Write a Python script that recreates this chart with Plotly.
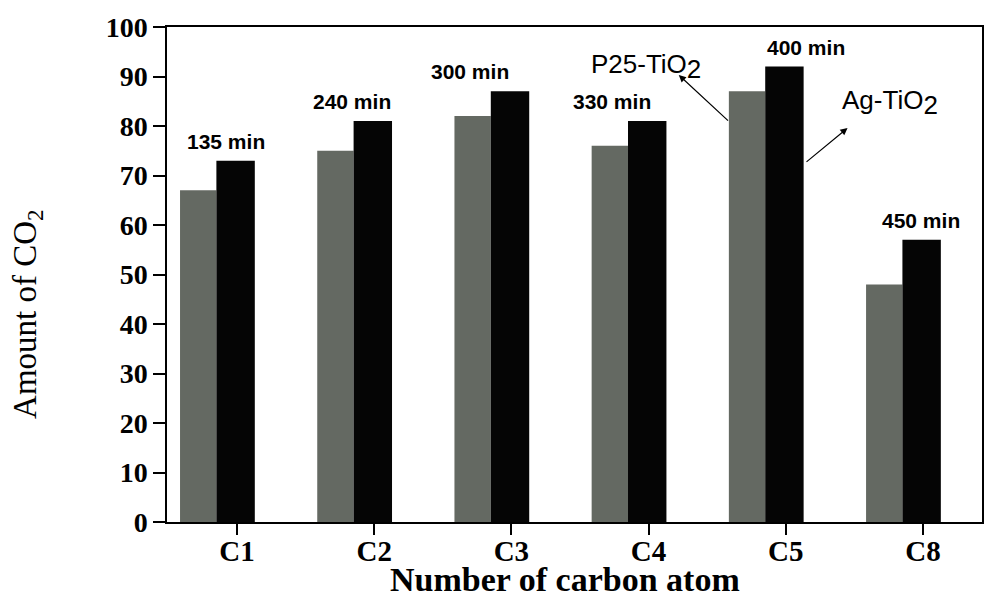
import plotly.graph_objects as go

# Data
carbons = ["C1", "C2", "C3", "C4", "C5", "C8"]
p25_tio2 = [67, 75, 82, 76, 87, 48]
ag_tio2 = [73, 81, 87, 81, 92, 57]
times_min = [135, 240, 300, 330, 400, 450]

pos = list(range(len(carbons)))

GRAY = "#646962"
BLACK = "#050505"
SERIF = "Liberation Serif, Times New Roman, serif"
SANS = "Liberation Sans, Arial, sans-serif"

fig = go.Figure()
fig.add_trace(go.Bar(
    x=pos, y=p25_tio2, name="P25-TiO2",
    marker=dict(color=GRAY, line=dict(width=0)),
    offset=-0.415, width=0.265,
))
fig.add_trace(go.Bar(
    x=pos, y=ag_tio2, name="Ag-TiO2",
    marker=dict(color=BLACK, line=dict(width=0)),
    offset=-0.15, width=0.28,
))

# Reaction-time labels above each Ag-TiO2 bar
label_shift_px = [-11, -22, -41, -37, 20, -2]
for p, v, t, dx in zip(pos, ag_tio2, times_min, label_shift_px):
    fig.add_annotation(
        x=p, y=v, text=f"<b>{t} min</b>", showarrow=False,
        xanchor="center", yanchor="bottom", xshift=dx, yshift=6,
        font=dict(family=SANS, size=21, color="black"),
    )

# Series labels with arrows
fig.add_annotation(
    x=2.98, y=92.0, text="P25-TiO<sub><span style='font-size:26px'>2</span></sub>",
    showarrow=False, xanchor="center", yanchor="middle",
    font=dict(family=SANS, size=26, color="black"),
)
fig.add_annotation(
    x=3.22, y=90.3, ax=3.59, ay=80.8, xref="x", yref="y", axref="x", ayref="y",
    text="", showarrow=True, arrowhead=2, arrowsize=1.2, arrowwidth=1.2,
    arrowcolor="black",
)
fig.add_annotation(
    x=4.76, y=84.8, text="Ag-TiO<sub><span style='font-size:26px'>2</span></sub>",
    showarrow=False, xanchor="center", yanchor="middle",
    font=dict(family=SANS, size=26, color="black"),
)
fig.add_annotation(
    x=4.45, y=79.6, ax=4.14, ay=72.5, xref="x", yref="y", axref="x", ayref="y",
    text="", showarrow=True, arrowhead=2, arrowsize=1.2, arrowwidth=1.2,
    arrowcolor="black",
)

# Axis titles
fig.add_annotation(
    xref="paper", yref="paper", x=0.488, y=-0.1565,
    text="<b>Number of carbon atom</b>", showarrow=False,
    xanchor="center", yanchor="bottom", borderpad=0,
    font=dict(family=SERIF, size=34, color="black"),
)
fig.add_annotation(
    xref="paper", yref="paper", x=-0.172, y=0.42,
    text="Amount of CO<sub>2</sub>", showarrow=False, textangle=-90,
    xanchor="center", yanchor="middle",
    font=dict(family=SERIF, size=33, color="black"),
)

fig.update_layout(
    width=984, height=600,
    margin=dict(l=167, r=2, t=27, b=78),
    paper_bgcolor="white", plot_bgcolor="white",
    showlegend=False, barmode="overlay",
    xaxis=dict(
        range=[-0.51, 5.43], tickvals=pos, ticktext=carbons,
        showline=True, linecolor="black", linewidth=1.5, mirror=True,
        ticks="outside", ticklen=11, tickwidth=1.5, tickcolor="black",
        ticklabelstandoff=-9,
        showgrid=False, zeroline=False, automargin=False,
        tickfont=dict(family=SERIF, size=29, color="black", weight="bold"),
    ),
    yaxis=dict(
        range=[0, 100], tickvals=list(range(0, 101, 10)),
        showline=True, linecolor="black", linewidth=1.5, mirror=True,
        ticks="outside", ticklen=12, tickwidth=1.5, tickcolor="black",
        showgrid=False, zeroline=False, automargin=False,
        tickfont=dict(family=SERIF, size=28, color="black", weight="bold"),
    ),
)

fig.write_html("out.html")
